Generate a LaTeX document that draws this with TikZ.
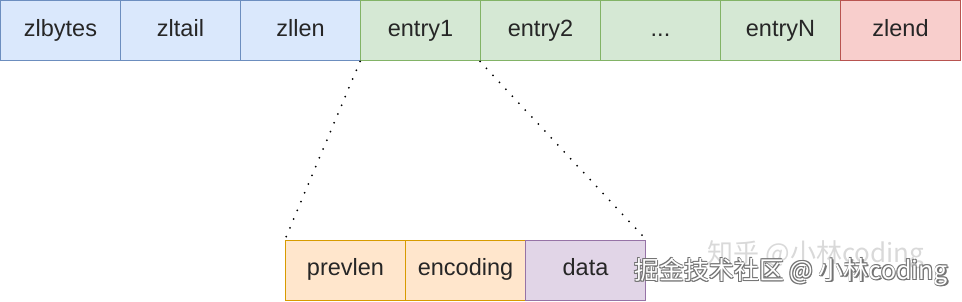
\documentclass[tikz,border=0pt]{standalone}
\usepackage{fontspec}
\setmainfont{Liberation Sans}
\newfontfamily\cjk{Noto Sans CJK SC}
\definecolor{bfill}{HTML}{DAE8FC}\definecolor{bdraw}{HTML}{6C8EBF}
\definecolor{gfill}{HTML}{D5E8D4}\definecolor{gdraw}{HTML}{82B366}
\definecolor{rfill}{HTML}{F8CECC}\definecolor{rdraw}{HTML}{B85450}
\definecolor{ofill}{HTML}{FFE6CC}\definecolor{odraw}{HTML}{D79B00}
\definecolor{pfill}{HTML}{E1D5E7}\definecolor{pdraw}{HTML}{9673A6}
\begin{document}
\begin{tikzpicture}[x=1pt,y=-1pt,
  cell/.style={rectangle,minimum width=120pt,minimum height=60pt,inner sep=0pt,line width=1pt,font=\fontsize{23.5}{28}\selectfont,text=black!85,text height=17pt,text depth=5pt},
  bluecell/.style={cell,fill=bfill,draw=bdraw},
  greencell/.style={cell,fill=gfill,draw=gdraw},
  redcell/.style={cell,fill=rfill,draw=rdraw},
  orangecell/.style={cell,fill=ofill,draw=odraw},
  purplecell/.style={cell,fill=pfill,draw=pdraw},
  dotline/.style={line width=2pt,line cap=round,dash pattern=on 0pt off 9.5pt}]
\useasboundingbox (0,0) rectangle (962,302);
\node[bluecell] (zlbytes) at (60.5,31) {zlbytes};
\node[bluecell] (zltail) at (180.5,31) {zltail};
\node[bluecell] (zllen) at (300.5,31) {zllen};
\node[greencell] (entry1) at (420.5,31) {entry1};
\node[greencell] (entry2) at (540.5,31) {entry2};
\node[greencell] (dots) at (660.5,31) {...};
\node[greencell] (entryN) at (780.5,31) {entryN};
\node[redcell] (zlend) at (900.5,31) {zlend};
\node[orangecell] (prevlen) at (345.5,270) {prevlen};
\node[orangecell] (encoding) at (465.5,270) {encoding};
\node[purplecell] (data) at (585.5,270) {data};
\draw[dotline] (entry1.south west) -- (prevlen.north west);
\draw[dotline] (entry2.south west) -- (data.north east);
\node[text=black!15,font=\cjk\fontsize{26}{30}\selectfont,inner sep=0pt] (wm1) at (816,255) {知乎 @小林coding};
\foreach \dx/\dy in {0.8/0.8,-0.8/0.8,0.8/-0.8,-0.8/-0.8,1.2/1.2} {
  \node[text=black!55,font=\cjk\fontsize{25}{30}\selectfont,inner sep=0pt] at (791+\dx,272+\dy) {掘金技术社区 @ 小林coding};
}
\node[text=white,font=\cjk\fontsize{25}{30}\selectfont,inner sep=0pt] (wm2) at (791,272) {掘金技术社区 @ 小林coding};
\end{tikzpicture}
\end{document}
